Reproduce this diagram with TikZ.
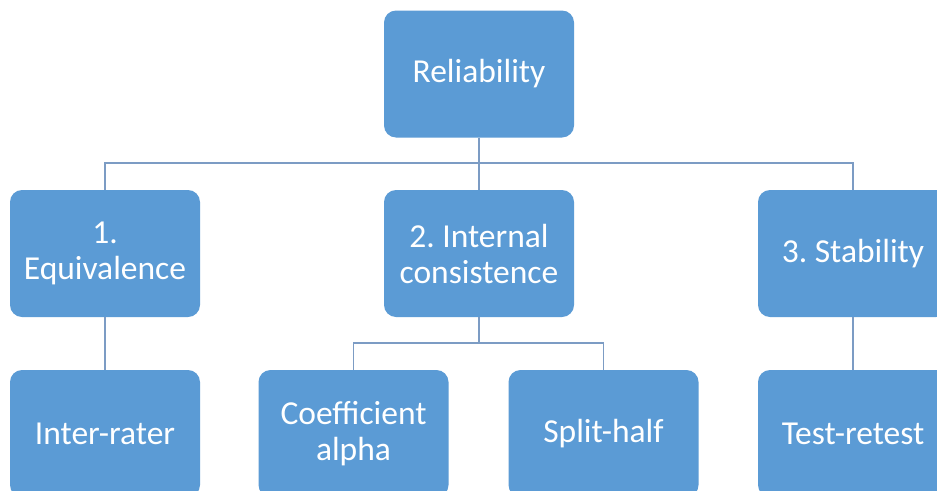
\documentclass[tikz,border=0pt]{standalone}
\usepackage{fontspec}
\setmainfont{Carlito}
\frenchspacing
\definecolor{boxblue}{HTML}{5B9BD5}
\definecolor{linecol}{HTML}{7C9CC4}
\begin{document}
\begin{tikzpicture}[x=1pt,y=-1pt,
  box/.style={draw=none, fill=boxblue, rounded corners=12pt, minimum width=190pt, minimum height=127pt,
    text=white, align=center, font=\fontsize{33.5}{36}\selectfont, inner sep=0pt},
  conn/.style={draw=linecol, line width=1.4pt}]
\useasboundingbox (0,0) rectangle (937,490);
\clip (0,0) rectangle (937,490);
\fill[white] (0,0) rectangle (937,490);
\node[box] (rel) at (479,74) {Reliability};
\node[box] (eq) at (105,253.5) {1.\\Equivalence};
\node[box] (int) at (479,253.5) {2. Internal\\consistence};
\node[box] (stab) at (853,253.5) {3. Stability};
\node[box] (inter) at (105,433.5) {Inter-rater};
\node[box] (coef) at (353.5,433.5) {Coefficient\\alpha};
\node[box] (split) at (603.5,433.5) {Split-half};
\node[box] (test) at (853,433.5) {Test-retest};
\coordinate (h1) at (479,163);
\coordinate (h2) at (479,343);
\draw[conn] (rel.south) -- (int.north);
\draw[conn] (eq.north) |- (h1) -| (stab.north);
\draw[conn] (int.south) -- (h2);
\draw[conn] (coef.north) |- (h2) -| (split.north);
\draw[conn] (eq.south) -- (inter.north);
\draw[conn] (stab.south) -- (test.north);
\end{tikzpicture}
\end{document}
